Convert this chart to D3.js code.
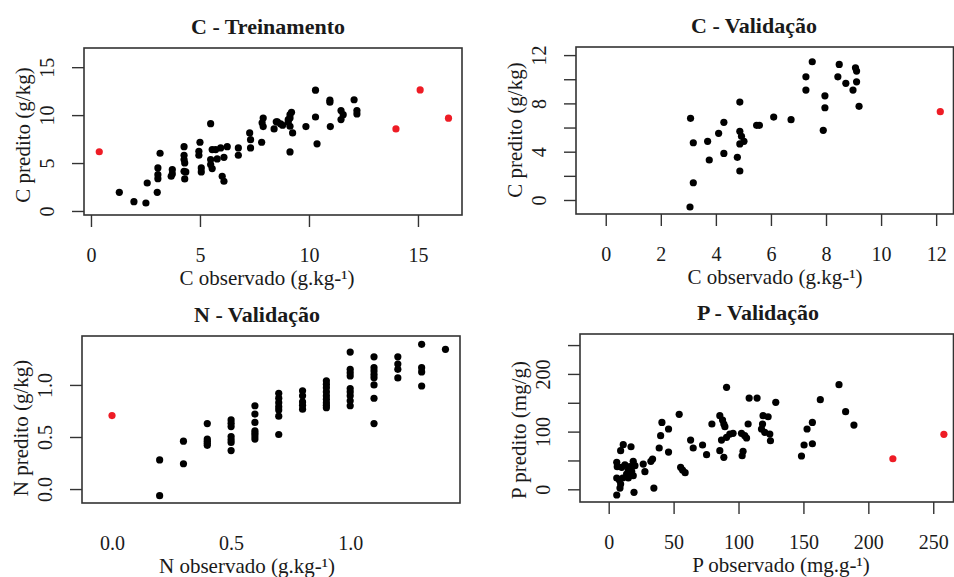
<!DOCTYPE html>
<html>
<head>
<meta charset="utf-8">
<script src="https://cdn.jsdelivr.net/npm/d3@7"></script>
<style>
  body { margin: 0; background: #fff; }
  text { font-family: "Liberation Serif", "Times New Roman", serif; fill: #1a1a1a; }
</style>
</head>
<body>
<script>
// ---- data: [observado, predito] ----
const cTreinoPts = [
    [1.3, 1.95], [1.97, 0.97], [2.52, 0.83], [2.58, 2.92], [3.04, 1.95], [3.17, 6.02],
    [3.07, 4.49], [3.07, 3.79], [3.07, 3.37], [3.73, 4.31], [3.73, 3.86], [3.68, 3.62],
    [4.27, 6.71], [4.27, 5.81], [4.27, 5.36], [4.3, 5.01], [4.27, 4.14], [4.35, 4.07],
    [4.3, 3.34], [5.0, 7.17], [4.95, 6.23], [4.95, 5.81], [5.06, 4.49], [5.06, 4.07],
    [5.49, 9.11], [5.56, 6.4], [5.72, 6.4], [5.95, 6.58], [6.25, 6.71], [5.49, 5.36],
    [5.49, 4.84], [5.56, 4.42], [5.79, 5.43], [6.1, 5.6], [6.02, 3.62], [6.1, 3.1],
    [6.76, 6.58], [6.76, 5.81], [7.28, 8.14], [7.32, 7.44], [7.32, 6.58], [7.83, 7.17],
    [7.9, 9.7], [7.85, 9.2], [7.9, 8.8], [8.5, 9.3], [8.4, 8.56], [8.7, 9.08],
    [10.3, 12.6], [10.96, 11.56], [10.96, 11.35], [12.07, 11.6], [12.2, 10.47], [12.2, 10.12],
    [11.47, 10.47], [11.57, 10.05], [11.47, 9.53], [10.3, 9.8], [9.86, 8.8], [10.98, 8.8],
    [9.25, 8.14], [10.37, 7.0], [9.13, 6.16], [8.55, 9.29], [8.79, 8.94], [9.05, 9.53],
    [9.13, 10.05], [9.2, 10.3], [9.13, 9.7], [9.05, 9.29], [9.13, 8.84]
];
const cTreinoOut = [[0.38, 6.18], [13.99, 8.56], [15.1, 12.63], [16.4, 9.68]];

const cValidPts = [
    [3.06, -0.58], [3.18, 1.43], [3.08, 6.76], [3.18, 4.74], [3.7, 4.86], [3.76, 3.31],
    [4.1, 5.52], [4.29, 6.43], [4.29, 3.86], [4.78, 3.53], [4.87, 2.4], [4.87, 8.11],
    [4.87, 5.69], [4.93, 5.27], [5.02, 4.86], [4.87, 4.64], [5.48, 6.18], [5.58, 6.18],
    [6.1, 6.87], [6.73, 6.65], [7.27, 10.2], [7.27, 9.1], [7.5, 11.45], [7.96, 8.63],
    [7.96, 7.64], [7.9, 5.77], [8.43, 10.2], [8.48, 11.23], [8.72, 9.66], [8.98, 9.1],
    [9.07, 10.95], [9.11, 10.68], [9.11, 9.79], [9.2, 7.76]
];
const cValidOut = [[12.15, 7.31]];

const nValidPts = [
    [0.2, 0.28], [0.2, -0.064], [0.3, 0.46], [0.3, 0.243],
    [0.4, 0.629], [0.4, 0.48], [0.4, 0.46], [0.4, 0.44], [0.4, 0.42],
    [0.5, 0.664], [0.5, 0.632], [0.5, 0.6], [0.5, 0.504], [0.5, 0.473], [0.5, 0.447], [0.5, 0.37],
    [0.6, 0.8], [0.6, 0.72], [0.6, 0.64], [0.6, 0.56], [0.6, 0.537], [0.6, 0.51], [0.6, 0.48],
    [0.7, 0.92], [0.7, 0.873], [0.7, 0.83], [0.7, 0.79], [0.7, 0.76], [0.7, 0.7], [0.7, 0.524],
    [0.8, 0.943], [0.8, 0.895], [0.8, 0.837], [0.8, 0.805], [0.8, 0.767],
    [0.9, 1.04], [0.9, 1.007], [0.9, 0.974], [0.9, 0.933], [0.9, 0.895], [0.9, 0.863],
    [0.9, 0.83], [0.9, 0.805], [0.9, 0.782],
    [1.0, 1.316], [1.0, 1.15], [1.0, 1.118], [1.0, 1.086], [1.0, 0.965], [1.0, 0.933],
    [1.0, 0.895], [1.0, 0.847], [1.0, 0.8],
    [1.1, 1.27], [1.1, 1.166], [1.1, 1.134], [1.1, 1.1], [1.1, 1.07], [1.1, 1.0],
    [1.1, 0.872], [1.1, 0.629],
    [1.2, 1.27], [1.2, 1.2], [1.2, 1.15], [1.2, 1.067],
    [1.3, 1.39], [1.3, 1.166], [1.3, 1.125], [1.3, 0.99],
    [1.4, 1.342]
];
const nValidOut = [[0.0, 0.706]];

const pValidPts = [
    [6.2, -9.9], [19.5, -5.3], [34.8, 2.2], [8.7, 2.2], [9.2, 9.2], [6.2, 19.6],
    [8.2, 16.1], [10.8, 19.6], [6.2, 46.8], [6.6, 39.2], [10, 38.1], [12.5, 42.6],
    [15.1, 33.4], [16.4, 39.2], [18.9, 48.5], [20.2, 40.9], [17.7, 31.2], [18.9, 23.6],
    [15.1, 19.6], [13.8, 26.5], [9.2, 66.9], [11.2, 77.3], [17.2, 73.8], [26.6, 43.8],
    [27.9, 30.5], [32.5, 48.5], [33.8, 52.5], [38.9, 71.6], [40, 92.9], [41, 116],
    [46.1, 104.5], [46.1, 64.6], [54.3, 130], [55.4, 38.1], [56.9, 33.4], [58.9, 28.8],
    [63.1, 85.4], [65.1, 71.6], [72.3, 76.8], [75.4, 60], [79.5, 113.2], [85.6, 127.6],
    [87.7, 120.1], [88.7, 113.2], [89.5, 108.5], [90.8, 176.8], [85.6, 66.9], [88.7, 55.5],
    [86.9, 85.4], [90.8, 90.1], [93.3, 95.8], [95.8, 97.1], [102.3, 97.1], [104.8, 92.9],
    [106.2, 88.9], [103.5, 65.9], [102.8, 58.2], [107.4, 113.2], [108.2, 158.2], [114.3, 158.2],
    [118.9, 127.6], [122.8, 125.8], [118.5, 113.2], [117.7, 104.5], [120.2, 98.8], [124.1, 95.8],
    [124.6, 84.2], [128.7, 150.8], [163, 155.3], [177.4, 181.3], [182.5, 134.5], [188.9, 111.4],
    [156.9, 116], [152.8, 104.5], [156.9, 79], [150.5, 76.8], [148.5, 57.7]
];
const pValidOut = [[218.9, 53], [258.2, 95.3]];

// ticks
const cTreinoTicks = [0, 5, 10, 15];
const cValidXTicks = [0, 2, 4, 6, 8, 10, 12];
const cValidYTicks = [0, 2, 4, 6, 8, 10, 12];
const cValidYLabels = [0, 4, 8, 12];
const nTicks = [0, 0.5, 1.0];
const pXTicks = [0, 50, 100, 150, 200, 250];
const pYTicks = [0, 50, 100, 150, 200, 250];
const pYLabels = [0, 100, 200];

const svg = d3.select("body").append("svg")
    .attr("width", 954)
    .attr("height", 577);

function panel(o) {
    const x = d3.scaleLinear().domain(o.xDom).range([o.left, o.right]);
    const y = d3.scaleLinear().domain(o.yDom).range([o.bottom, o.top]);
    const g = svg.append("g");

    // x axis: ticks only, hanging below the box
    const xAxis = d3.axisBottom(x).tickValues(o.xTicks).tickSize(o.xTickLen)
        .tickFormat(d => (o.xLabels || o.xTicks).includes(d) ? o.fmt(d) : "");
    const gx = g.append("g").attr("transform", `translate(0,${o.bottom})`).call(xAxis);
    gx.select(".domain").remove();
    gx.selectAll("line").attr("stroke", "#333").attr("stroke-width", 1.4);
    gx.selectAll("text").attr("y", 40).attr("dy", "0.35em")
        .style("font-size", "20px").attr("fill", "#1a1a1a");

    const yAxis = d3.axisLeft(y).tickValues(o.yTicks).tickSize(12)
        .tickFormat(d => (o.yLabels || o.yTicks).includes(d) ? o.fmt(d) : "");
    const gy = g.append("g").attr("transform", `translate(${o.left},0)`).call(yAxis);
    gy.select(".domain").remove();
    gy.selectAll("line").attr("stroke", "#333").attr("stroke-width", 1.4);
    gy.selectAll("text")
        .attr("x", null).attr("dy", null)
        .attr("text-anchor", "middle")
        .attr("transform", "translate(-37,0) rotate(-90)")
        .attr("dy", "0.35em")
        .style("font-size", "20px").attr("fill", "#333");

    g.append("rect")
        .attr("x", o.left).attr("y", o.top)
        .attr("width", o.right - o.left).attr("height", o.bottom - o.top)
        .attr("fill", "none").attr("stroke", "#333").attr("stroke-width", 1.6);

    g.selectAll("circle.pt").data(o.pts).join("circle")
        .attr("class", "pt")
        .attr("cx", d => x(d[0])).attr("cy", d => y(d[1]))
        .attr("r", 3.6).attr("fill", "#000");
    g.selectAll("circle.out").data(o.out).join("circle")
        .attr("class", "out")
        .attr("cx", d => x(d[0])).attr("cy", d => y(d[1]))
        .attr("r", 3.6).attr("fill", "#ee1c25");

    g.append("text")
        .attr("x", o.titleX).attr("y", o.top - 22).attr("dy", "0.35em")
        .attr("text-anchor", "middle")
        .style("font-size", "22px").style("font-weight", "bold")
        .text(o.title);
    g.append("text")
        .attr("x", o.xTitleX).attr("y", o.bottom + 63).attr("dy", "0.35em")
        .attr("text-anchor", "middle").style("font-size", "21px")
        .text(o.xTitle);
    g.append("text")
        .attr("transform", `translate(${o.left - 61},${o.yTitleY}) rotate(-90)`)
        .attr("dy", "0.35em")
        .attr("text-anchor", "middle").style("font-size", "21px")
        .text(o.yTitle);
}

panel({
    left: 84, right: 462, top: 48, bottom: 215,
    xDom: [-0.32, 17.02], yDom: [-0.42, 17.0],
    xTicks: cTreinoTicks, yTicks: cTreinoTicks, xTickLen: 12,
    fmt: d3.format("d"),
    pts: cTreinoPts, out: cTreinoOut,
    title: "C - Treinamento", titleX: 268,
    xTitle: "C observado (g.kg-¹)", xTitleX: 267,
    yTitle: "C predito (g/kg)", yTitleY: 135
});

panel({
    left: 576, right: 953.5, top: 47, bottom: 214,
    xDom: [-1.08, 12.63], yDom: [-1.16, 12.67],
    xTicks: cValidXTicks, yTicks: cValidYTicks, yLabels: cValidYLabels, xTickLen: 12,
    fmt: d3.format("d"),
    pts: cValidPts, out: cValidOut,
    title: "C - Validação", titleX: 754,
    xTitle: "C observado (g.kg-¹)", xTitleX: 775,
    yTitle: "C predito (g/kg)", yTitleY: 130
});

panel({
    left: 82, right: 460, top: 336, bottom: 503,
    xDom: [-0.126, 1.461], yDom: [-0.134, 1.47],
    xTicks: nTicks, yTicks: nTicks, xTickLen: 0,
    fmt: d3.format(".1f"),
    pts: nValidPts, out: nValidOut,
    title: "N - Validação", titleX: 257,
    xTitle: "N observado (g.kg-¹)", xTitleX: 247,
    yTitle: "N predito (g/kg)", yTitleY: 428
});

panel({
    left: 580, right: 953.5, top: 334, bottom: 502,
    xDom: [-22.1, 265.6], yDom: [-22, 269.2],
    xTicks: pXTicks, yTicks: pYTicks, yLabels: pYLabels, xTickLen: 12,
    fmt: d3.format("d"),
    pts: pValidPts, out: pValidOut,
    title: "P - Validação", titleX: 758,
    xTitle: "P observado (mg.g-¹)", xTitleX: 781,
    yTitle: "P predito (mg/g)", yTitleY: 430
});
</script>
</body>
</html>
